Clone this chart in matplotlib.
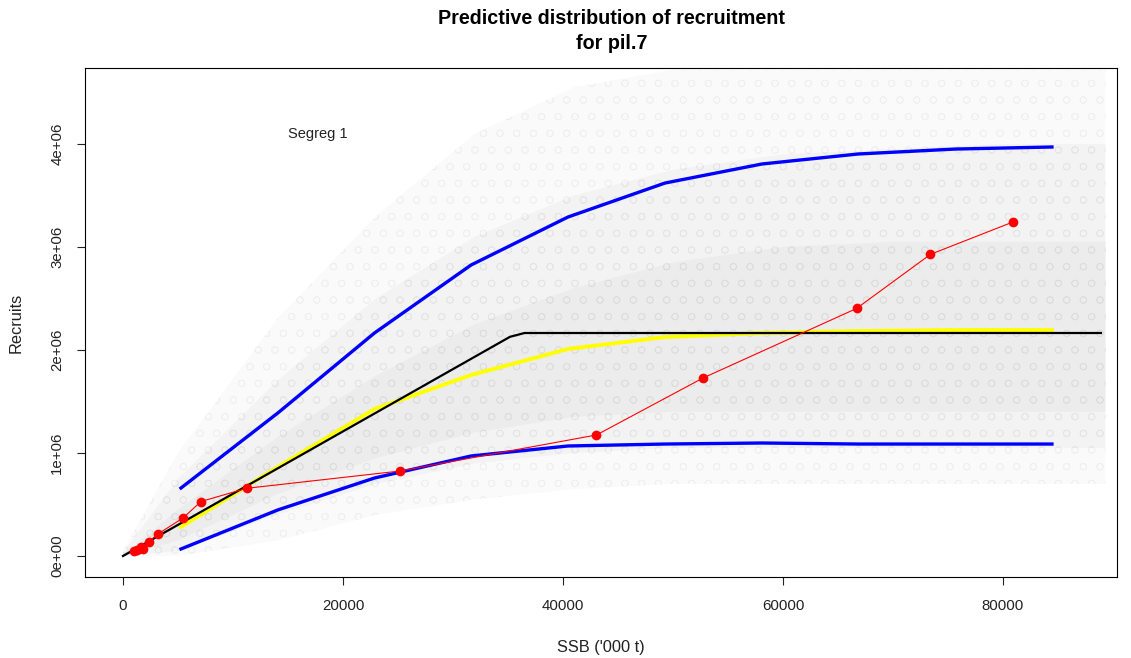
import matplotlib
matplotlib.use("Agg")
import matplotlib.pyplot as plt

plt.rcParams['font.family'] = ['Liberation Sans', 'DejaVu Sans']
plt.rcParams['hatch.linewidth'] = 0.5

# SSB grid at which the predictive quantiles are evaluated ('000 t)
ssb_grid = [5270, 14070, 22860, 31640, 40450, 49270, 58090, 66820, 75640, 84450]
rec_q05 = [0.068e6, 0.447e6, 0.757e6, 0.971e6, 1.068e6, 1.087e6, 1.097e6, 1.087e6, 1.087e6, 1.087e6]
rec_q50 = [0.282e6, 0.864e6, 1.427e6, 1.757e6, 2.010e6, 2.126e6, 2.165e6, 2.184e6, 2.194e6, 2.194e6]
rec_q95 = [0.660e6, 1.388e6, 2.165e6, 2.825e6, 3.291e6, 3.621e6, 3.806e6, 3.903e6, 3.951e6, 3.971e6]

# Segmented regression (hockey stick) fit
fit_ssb = [0, 35180, 36500, 88900]
fit_rec = [0, 2.128e6, 2.165e6, 2.165e6]

# Observed stock-recruit pairs
obs_ssb = [1000, 1273, 1636, 1818, 2336, 3136, 5455, 7091, 11227,
           25182, 43045, 52727, 66682, 73409, 80909]
obs_rec = [48.5e3, 63e3, 90e3, 65e3, 136e3, 211e3, 369e3, 529e3, 657e3,
           825e3, 1175e3, 1728e3, 2403e3, 2929e3, 3243e3]

# Spread of the simulated recruitment draws: sparse outer zone,
# main body and dense core
cloud_ssb = [0, 5000, 14000, 23000, 32000, 41000, 50000, 60000, 70000, 80000, 89300]
cloud_out_lo = [0, 0, 0.15e6, 0.40e6, 0.55e6, 0.65e6, 0.70e6, 0.70e6, 0.70e6, 0.70e6, 0.70e6]
cloud_out_hi = [0.05e6, 1.0e6, 2.3e6, 3.3e6, 4.1e6, 4.55e6, 4.72e6, 4.72e6, 4.72e6, 4.72e6, 4.72e6]
cloud_mid_lo = [0, 0.05e6, 0.40e6, 0.70e6, 0.90e6, 1.00e6, 1.05e6, 1.05e6, 1.05e6, 1.05e6, 1.05e6]
cloud_mid_hi = [0.03e6, 0.75e6, 1.70e6, 2.50e6, 3.10e6, 3.50e6, 3.75e6, 3.90e6, 3.95e6, 4.00e6, 4.00e6]
cloud_core_lo = [0, 0.15e6, 0.60e6, 0.95e6, 1.20e6, 1.35e6, 1.40e6, 1.40e6, 1.40e6, 1.40e6, 1.40e6]
cloud_core_hi = [0.01e6, 0.45e6, 1.15e6, 1.75e6, 2.25e6, 2.60e6, 2.85e6, 3.00e6, 3.05e6, 3.05e6, 3.05e6]

fig = plt.figure(figsize=(11.31, 6.58), dpi=100)
ax = fig.add_axes([85/1131, 1 - 577/658, (1117 - 85)/1131, (577 - 68)/658])

ax.fill_between(cloud_ssb, cloud_out_lo, cloud_out_hi, facecolor='#fafafa',
                edgecolor='#efefef', linewidth=0, hatch='o', zorder=1)
ax.fill_between(cloud_ssb, cloud_mid_lo, cloud_mid_hi, facecolor='#f3f3f3',
                edgecolor='#e4e4e4', linewidth=0, hatch='o', zorder=1.1)
ax.fill_between(cloud_ssb, cloud_core_lo, cloud_core_hi, facecolor='#ececec',
                edgecolor='#dcdcdc', linewidth=0, hatch='o', zorder=1.2)

ax.plot(ssb_grid, rec_q95, color='#0000ff', lw=2.4, zorder=3)
ax.plot(ssb_grid, rec_q05, color='#0000ff', lw=2.4, zorder=3)
ax.plot(ssb_grid, rec_q50, color='#ffff00', lw=2.8, zorder=3.2)
ax.plot(fit_ssb, fit_rec, color='black', lw=1.6, zorder=3.4)
ax.plot(obs_ssb, obs_rec, color='#ff0000', lw=0.8, marker='o', ms=7,
        markeredgewidth=0, zorder=4)

ax.text(15000, 4.06e6, 'Segreg 1', fontsize=10.5, color='#222222')

ax.set_xlim(-3455, 90364)
ax.set_ylim(-0.204e6, 4.738e6)

xt = [0, 20000, 40000, 60000, 80000]
ax.set_xticks(xt)
ax.set_xticklabels([str(v) for v in xt])
yt = [0, 1e6, 2e6, 3e6, 4e6]
ax.set_yticks(yt)
ax.set_yticklabels(['0e+00', '1e+06', '2e+06', '3e+06', '4e+06'],
                   rotation=90, va='center')
ax.tick_params(axis='both', direction='out', length=6, width=0.8,
               labelsize=10.8, colors='#222222')
ax.tick_params(axis='x', pad=10)
ax.tick_params(axis='y', pad=9)
for sp in ax.spines.values():
    sp.set_linewidth(0.8)

ax.set_xlabel("SSB ('000 t)", fontsize=11.8, labelpad=19, color='#222222')
ax.set_ylabel('Recruits', fontsize=11.8, labelpad=19, color='#222222')

fig.text(612/1131, 1 - 31/658, 'Predictive distribution of recruitment\nfor pil.7',
         ha='center', va='center', fontsize=14.2, fontweight='bold', linespacing=1.36)

fig.savefig('out.png', dpi=100)
